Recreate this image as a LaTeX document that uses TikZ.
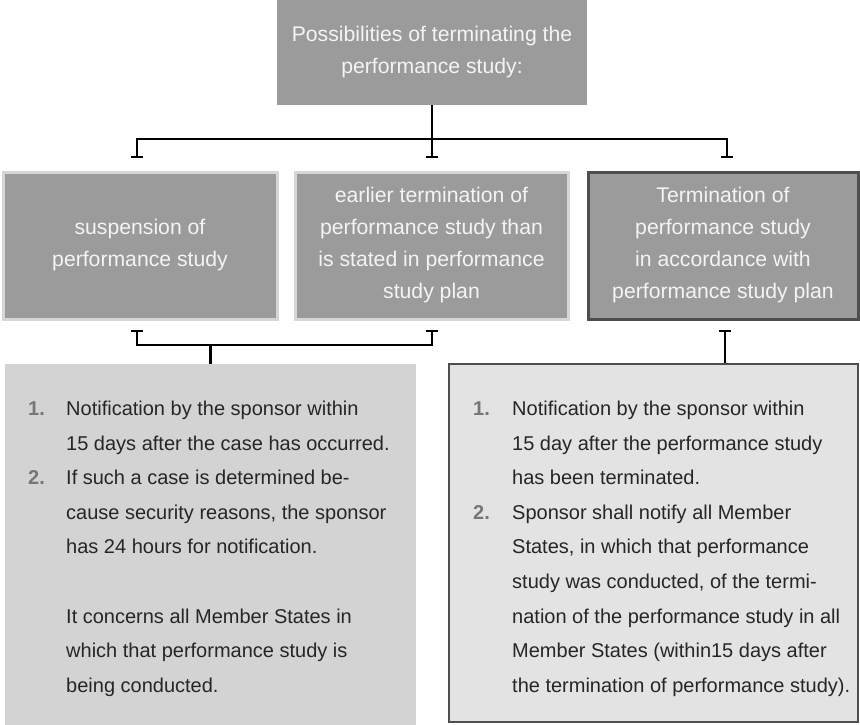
\documentclass[tikz,border=0pt]{standalone}
\usepackage{fontspec}
\setmainfont{Liberation Sans}
\usetikzlibrary{arrows.meta}

\definecolor{boxgray}{HTML}{9B9B9B}
\definecolor{lightedge}{HTML}{D6D6D6}
\definecolor{darkedge}{HTML}{4E4E4E}
\definecolor{panelA}{HTML}{D3D3D3}
\definecolor{panelB}{HTML}{E3E3E3}
\definecolor{headtext}{HTML}{F4F4F4}
\definecolor{bodytext}{HTML}{262626}
\definecolor{numgray}{HTML}{767676}

\newcommand{\itemnum}[1]{\textbf{\textcolor{numgray}{#1}}}

\tikzset{
  headbox/.style={fill=boxgray, draw=none, inner sep=0pt, align=center,
    text=headtext, font=\fontsize{21.2}{32}\selectfont},
  optionbox/.style={headbox, draw=lightedge, line width=3pt},
  mainoption/.style={headbox, draw=darkedge, line width=3pt},
  panel/.style={draw=none, inner sep=0pt},
  paneltext/.style={anchor=north west, inner sep=0pt, text=bodytext,
    font=\fontsize{20}{34.6}\selectfont},
  conn/.style={line width=2.2pt, black},
  tbar/.style={conn, -{Bar[width=12pt]}},
}

\begin{document}
\begin{tikzpicture}[x=1pt, y=-1pt]
  \useasboundingbox (0,0) rectangle (860,724);

  % heading
  \node[headbox, minimum width=310pt, minimum height=105pt] (top) at (432,52.5)
    {Possibilities of terminating the\\performance study:};

  % three ways of ending the study
  \node[optionbox, minimum width=274pt, minimum height=147pt] (opA) at (140,245.5)
    {suspension of\\performance study};
  \node[optionbox, minimum width=273pt, minimum height=147pt] (opB) at (431.5,245.5)
    {earlier termination of\\performance study than\\is stated in performance\\study plan};
  \node[mainoption, minimum width=270pt, minimum height=147pt] (opC) at (723,245.5)
    {Termination of\\performance study\\in accordance with\\performance study plan};

  % branching from the heading
  \coordinate (hub) at (432,139);
  \coordinate (dropA) at (137,158);
  \coordinate (dropB) at (432,158);
  \coordinate (dropC) at (727,158);
  \draw[conn] (top.south) -- (hub);
  \draw[tbar] (hub) -| (dropA);
  \draw[tbar] (hub) -- (dropB);
  \draw[tbar] (hub) -| (dropC);

  % notification panels
  \node[panel, fill=panelA, minimum width=411pt, minimum height=363pt] (panL) at (210.5,545.5) {};
  \node[panel, fill=panelB, draw=darkedge, line width=2.5pt,
        minimum width=409pt, minimum height=358pt] (panR) at (653.5,543) {};

  % bracket joining the first two options to the left panel
  \coordinate (tickA) at (137,330);
  \coordinate (tickB) at (432,330);
  \coordinate (rail) at (210.5,345);
  \draw[conn, {Bar[width=12pt]}-{Bar[width=12pt]}] (tickA) |- (rail) -| (tickB);
  \draw[conn] (rail) -- (panL.north);

  % link from the third option to the right panel
  \coordinate (tickC) at (725,330);
  \draw[conn, {Bar[width=12pt]}-] (tickC) -- (tickC |- panR.north);

  \node[paneltext] (txtL) at (28,391) {%
    \begin{tabular}{@{}p{38pt}@{}l@{}}
    \itemnum{1.} & Notification by the sponsor within\\
      & 15 days after the case has occurred.\\
    \itemnum{2.} & If such a case is determined be-\\
      & cause security reasons, the sponsor\\
      & has 24 hours for notification.\\
      & \\
      & It concerns all Member States in\\
      & which that performance study is\\
      & being conducted.
    \end{tabular}};

  \node[paneltext] (txtR) at (473,391) {%
    \begin{tabular}{@{}p{39pt}@{}l@{}}
    \itemnum{1.} & Notification by the sponsor within\\
      & 15 day after the performance study\\
      & has been terminated.\\
    \itemnum{2.} & Sponsor shall notify all Member\\
      & States, in which that performance\\
      & study was conducted, of the termi-\\
      & nation of the performance study in all\\
      & Member States (within15 days after\\
      & the termination of performance study).
    \end{tabular}};
\end{tikzpicture}
\end{document}
